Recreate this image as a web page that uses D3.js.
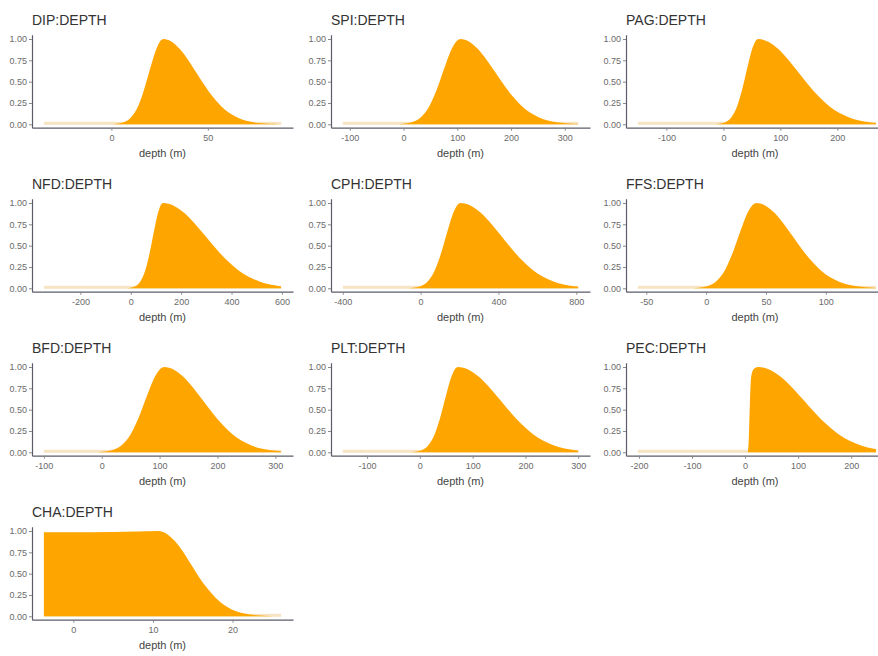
<!DOCTYPE html>
<html>
<head>
<meta charset="utf-8">
<script src="https://cdn.jsdelivr.net/npm/d3@7"></script>
<style>
  body { margin: 0; background: #fff; }
  svg { display: block; font-family: "Liberation Sans", Arial, sans-serif; }
</style>
</head>
<body>
<script>
// depth preference curves, one panel per group
var groups = ["DIP", "SPI", "PAG", "NFD", "CPH", "FFS", "BFD", "PLT", "PEC", "CHA"];

var dipDepth = [-35, 0.8, 2.6, 4.5, 6.4, 8.3, 10.1, 12, 13.9, 15.8, 17.6, 19.5, 21.4, 23.3, 25.1, 27,
                31.3, 35.5, 39.8, 44, 48.3, 52.5, 56.8, 61, 65.3, 69.5, 73.8, 78, 82.3, 86.5, 88];
var dipValue = [0, 0.002, 0.005, 0.011, 0.023, 0.044, 0.08, 0.135, 0.216, 0.325, 0.458, 0.607, 0.755, 0.883, 0.969, 1,
                0.969, 0.883, 0.755, 0.607, 0.458, 0.325, 0.216, 0.135, 0.08, 0.044, 0.023, 0.011, 0.005, 0.002, 0];

var spiDepth = [-113, -9.5, -1.3, 7, 15.3, 23.5, 31.8, 40, 48.3, 56.5, 64.8, 73, 81.3, 89.5, 97.8, 106,
                122.3, 138.5, 154.8, 171, 187.3, 203.5, 219.8, 236, 252.3, 268.5, 284.8, 301, 317.3, 325];
var spiValue = [0, 0.002, 0.005, 0.011, 0.023, 0.044, 0.08, 0.135, 0.216, 0.325, 0.458, 0.607, 0.755, 0.883, 0.969, 1,
                0.969, 0.883, 0.755, 0.607, 0.458, 0.325, 0.216, 0.135, 0.08, 0.044, 0.023, 0.011, 0.005, 0.003];

var pagDepth = [-150, -12.5, -7.3, -2, 3.3, 8.5, 13.8, 19, 24.3, 29.5, 34.8, 40, 45.3, 50.5, 55.8, 61,
                78.8, 96.5, 114.3, 132, 149.8, 167.5, 185.3, 203, 220.8, 238.5, 256.3, 268];
var pagValue = [0, 0.002, 0.005, 0.011, 0.023, 0.044, 0.08, 0.135, 0.216, 0.325, 0.458, 0.607, 0.755, 0.883, 0.969, 1,
                0.969, 0.883, 0.755, 0.607, 0.458, 0.325, 0.216, 0.135, 0.08, 0.044, 0.023, 0.014];

var nfdDepth = [-345, -12, -2, 8, 18, 28, 38, 48, 58, 68, 78, 88, 98, 108, 118, 128,
                170.5, 213, 255.5, 298, 340.5, 383, 425.5, 468, 510.5, 553, 597];
var nfdValue = [0, 0.002, 0.005, 0.011, 0.023, 0.044, 0.08, 0.135, 0.216, 0.325, 0.458, 0.607, 0.755, 0.883, 0.969, 1,
                0.969, 0.883, 0.755, 0.607, 0.458, 0.325, 0.216, 0.135, 0.08, 0.044, 0.022];

var cphDepth = [-400, -57.5, -38.8, -20, -1.3, 17.5, 36.3, 55, 73.8, 92.5, 111.3, 130, 148.8, 167.5, 186.3, 205,
                258, 311, 364, 417, 470, 523, 576, 629, 682, 735, 788, 810];
var cphValue = [0, 0.002, 0.005, 0.011, 0.023, 0.044, 0.08, 0.135, 0.216, 0.325, 0.458, 0.607, 0.755, 0.883, 0.969, 1,
                0.969, 0.883, 0.755, 0.607, 0.458, 0.325, 0.216, 0.135, 0.08, 0.044, 0.023, 0.017];

var ffsDepth = [-57, -10.5, -6.8, -3, 0.8, 4.5, 8.3, 12, 15.8, 19.5, 23.3, 27, 30.8, 34.5, 38.3, 42,
                49.6, 57.3, 64.9, 72.5, 80.1, 87.8, 95.4, 103, 110.6, 118.3, 125.9, 133.5, 142];
var ffsValue = [0, 0.002, 0.005, 0.011, 0.023, 0.044, 0.08, 0.135, 0.216, 0.325, 0.458, 0.607, 0.755, 0.883, 0.969, 1,
                0.969, 0.883, 0.755, 0.607, 0.458, 0.325, 0.216, 0.135, 0.08, 0.044, 0.023, 0.011, 0.004];

var bfdDepth = [-100, -7.5, 0.8, 9, 17.3, 25.5, 33.8, 42, 50.3, 58.5, 66.8, 75, 83.3, 91.5, 99.8, 108,
                124.8, 141.5, 158.3, 175, 191.8, 208.5, 225.3, 242, 258.8, 275.5, 292.3, 310];
var bfdValue = [0, 0.002, 0.005, 0.011, 0.023, 0.044, 0.08, 0.135, 0.216, 0.325, 0.458, 0.607, 0.755, 0.883, 0.969, 1,
                0.969, 0.883, 0.755, 0.607, 0.458, 0.325, 0.216, 0.135, 0.08, 0.044, 0.023, 0.011];

var pltDepth = [-146, -15.5, -9.3, -3, 3.3, 9.5, 15.8, 22, 28.3, 34.5, 40.8, 47, 53.3, 59.5, 65.8, 72,
                92.3, 112.5, 132.8, 153, 173.3, 193.5, 213.8, 234, 254.3, 274.5, 294.8, 300];
var pltValue = [0, 0.002, 0.005, 0.011, 0.023, 0.044, 0.08, 0.135, 0.216, 0.325, 0.458, 0.607, 0.755, 0.883, 0.969, 1,
                0.969, 0.883, 0.755, 0.607, 0.458, 0.325, 0.216, 0.135, 0.08, 0.044, 0.023, 0.019];

var pecDepth = [-202, 5, 7, 9, 11, 14, 18, 25,
                46.5, 68, 89.5, 111, 132.5, 154, 175.5, 197, 218.5, 240, 247];
var pecValue = [0, 0, 0.15, 0.55, 0.85, 0.95, 0.985, 1,
                0.969, 0.883, 0.755, 0.607, 0.458, 0.325, 0.216, 0.135, 0.08, 0.044, 0.036];

var chaDepth = [-3.7, 2, 8, 10.7, 11.7, 12.75, 13.8, 14.8, 15.8, 16.85, 17.9, 18.9, 19.9, 20.95, 22, 23, 24, 25.05, 26.1];
var chaValue = [0.985, 0.985, 0.995, 1, 0.969, 0.883, 0.755, 0.607, 0.458, 0.325, 0.216, 0.135, 0.08, 0.044, 0.023, 0.011, 0.005, 0.002, 0];

// tick labels
var yTicks = [0, 0.25, 0.5, 0.75, 1];
var dipTicks = [0, 50];
var spiTicks = [-100, 0, 100, 200, 300];
var pagTicks = [-100, 0, 100, 200];
var nfdTicks = [-200, 0, 200, 400, 600];
var cphTicks = [-400, 0, 400, 800];
var ffsTicks = [-50, 0, 50, 100];
var bfdTicks = [-100, 0, 100, 200, 300];
var pltTicks = [-100, 0, 100, 200, 300];
var pecTicks = [-200, -100, 0, 100, 200];
var chaTicks = [0, 10, 20];

var depths = [dipDepth, spiDepth, pagDepth, nfdDepth, cphDepth, ffsDepth, bfdDepth, pltDepth, pecDepth, chaDepth];
var values = [dipValue, spiValue, pagValue, nfdValue, cphValue, ffsValue, bfdValue, pltValue, pecValue, chaValue];
var xTicks = [dipTicks, spiTicks, pagTicks, nfdTicks, cphTicks, ffsTicks, bfdTicks, pltTicks, pecTicks, chaTicks];

var W = 878, H = 656;
var colLeft = [32, 331, 626],
    colRight = [293, 590, 888];
var rowPitch = 164;

var fillColor = "#FFA500",
    baseColor = "#f7e4c2",
    axisColor = "#5c5c6a";

var svg = d3.select("body")
  .append("svg")
    .attr("width", W)
    .attr("height", H);

svg.append("rect").attr("width", W).attr("height", H).attr("fill", "#fff");

groups.forEach(function(name, i) {
  var col = i % 3, row = Math.floor(i / 3);
  var dep = depths[i], val = values[i];
  var data = dep.map(function(d, k) { return {depth: d, value: val[k]}; });

  var lo = d3.min(dep), hi = d3.max(dep), pad = (hi - lo) * 0.05;
  var x = d3.scaleLinear()
    .domain([lo - pad, hi + pad])
    .range([colLeft[col], colRight[col]]);

  var y0 = 124.3 + row * rowPitch, y1 = 39 + row * rowPitch;
  var y = d3.scaleLinear()
    .domain([0, 1])
    .range([y0, y1]);
  var top = y(1.05), bottom = y(-0.04);

  var g = svg.append("g");

  // pale band along zero
  g.append("rect")
    .attr("x", x(lo))
    .attr("y", y(0) - 2.5)
    .attr("width", x(hi) - x(lo))
    .attr("height", 3)
    .attr("fill", baseColor);

  var area = d3.area()
    .x(function(d) { return x(d.depth); })
    .y0(y(0))
    .y1(function(d) { return y(d.value); })
    .curve(d3.curveMonotoneX);

  g.append("path")
    .datum(data)
    .attr("d", area)
    .attr("fill", fillColor);

  // axes
  var ya = g.append("g")
    .attr("transform", "translate(" + colLeft[col] + ",0)")
    .call(d3.axisLeft(y.copy().domain([-0.04, 1.05]).range([bottom, top]))
      .tickValues(yTicks)
      .tickFormat(d3.format(".2f"))
      .tickSize(3)
      .tickSizeOuter(0)
      .tickPadding(2));

  var xa = g.append("g")
    .attr("transform", "translate(0," + bottom + ")")
    .call(d3.axisBottom(x)
      .tickValues(xTicks[i])
      .tickFormat(function(d) { return d.toString(); })
      .tickSize(3)
      .tickSizeOuter(0)
      .tickPadding(4));

  [ya, xa].forEach(function(a) {
    a.select(".domain").attr("stroke", axisColor).attr("stroke-width", 1.2);
    a.selectAll(".tick line").attr("stroke", "#888");
    a.selectAll(".tick text")
      .attr("fill", "#6a6a6a")
      .style("font-size", "9px")
      .style("font-family", "'Liberation Sans', Arial, sans-serif");
  });

  g.append("text")
    .attr("x", colLeft[col])
    .attr("y", top - 10)
    .attr("fill", "#333")
    .style("font-size", "14px")
    .text(name + ":DEPTH");

  g.append("text")
    .attr("x", (colLeft[col] + Math.min(colRight[col], W)) / 2 + (col == 2 ? 3 : 0))
    .attr("y", bottom + 29)
    .attr("text-anchor", "middle")
    .attr("fill", "#444")
    .style("font-size", "11px")
    .text("depth (m)");
});
</script>
</body>
</html>
